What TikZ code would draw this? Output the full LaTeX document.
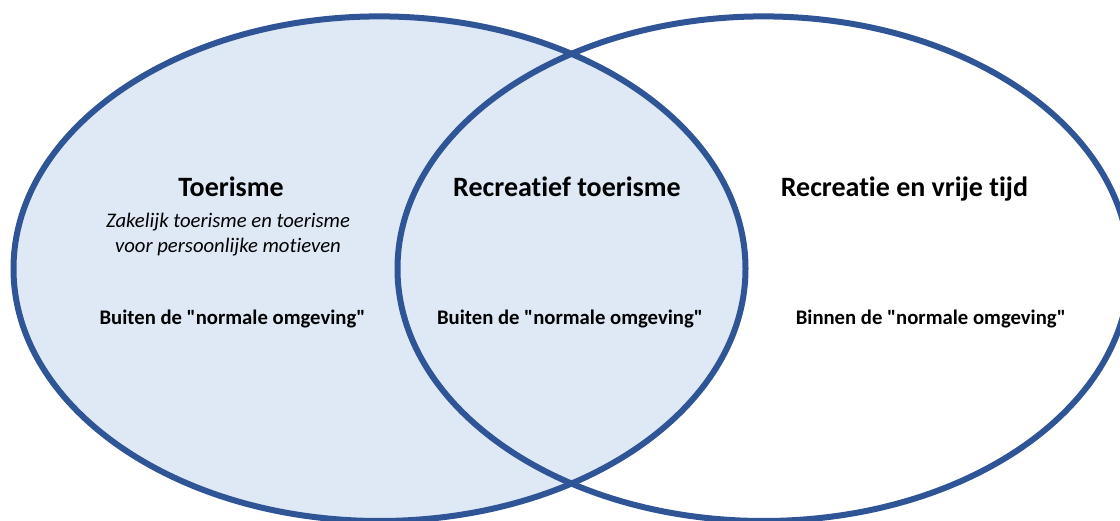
\documentclass[tikz,border=0pt]{standalone}
\usepackage{fontspec}
\setmainfont{Carlito}[Ligatures={TeX,NoCommon}]
\definecolor{ringblue}{HTML}{2F5597}
\definecolor{fillblue}{HTML}{DEE9F5}
\tikzset{
  ring/.style={draw=ringblue, line width=6pt},
  titletext/.style={anchor=base, inner sep=0pt, font=\fontsize{28}{34}\selectfont\bfseries},
  bodytext/.style={anchor=base, inner sep=0pt, font=\fontsize{20.7}{25.3}\selectfont\bfseries},
  subtext/.style={anchor=base, inner sep=0pt, align=center, font=\fontsize{20.7}{25.3}\selectfont\itshape},
}
\begin{document}
\begin{tikzpicture}[x=1pt,y=-1pt]
\useasboundingbox (0,0) rectangle (1120,521);
\clip (0,0) rectangle (1120,521);
\fill[fillblue] (379.5,268.7) ellipse [x radius=366, y radius=252.3];
\draw[ring] (379.5,268.7) ellipse [x radius=366, y radius=252.3];
\draw[ring] (763.5,268.7) ellipse [x radius=366, y radius=252.3];
\node[titletext] (toer) at (231,196.7) {Toerisme};
\node[subtext] (sub) at (228,253) {Zakelijk toerisme en toerisme\\voor persoonlijke motieven};
\node[bodytext] (buiten1) at (232.5,325) {Buiten de \textquotedbl normale omgeving\textquotedbl};
\node[titletext] (recto) at (567,196.7) {Recreatief toerisme};
\node[bodytext] (buiten2) at (570,325) {Buiten de \textquotedbl normale omgeving\textquotedbl};
\node[titletext] (recvt) at (904.5,196.7) {Recreatie en vrije tijd};
\node[bodytext] (binnen) at (930.8,325) {Binnen de \textquotedbl normale omgeving\textquotedbl};
\end{tikzpicture}
\end{document}
